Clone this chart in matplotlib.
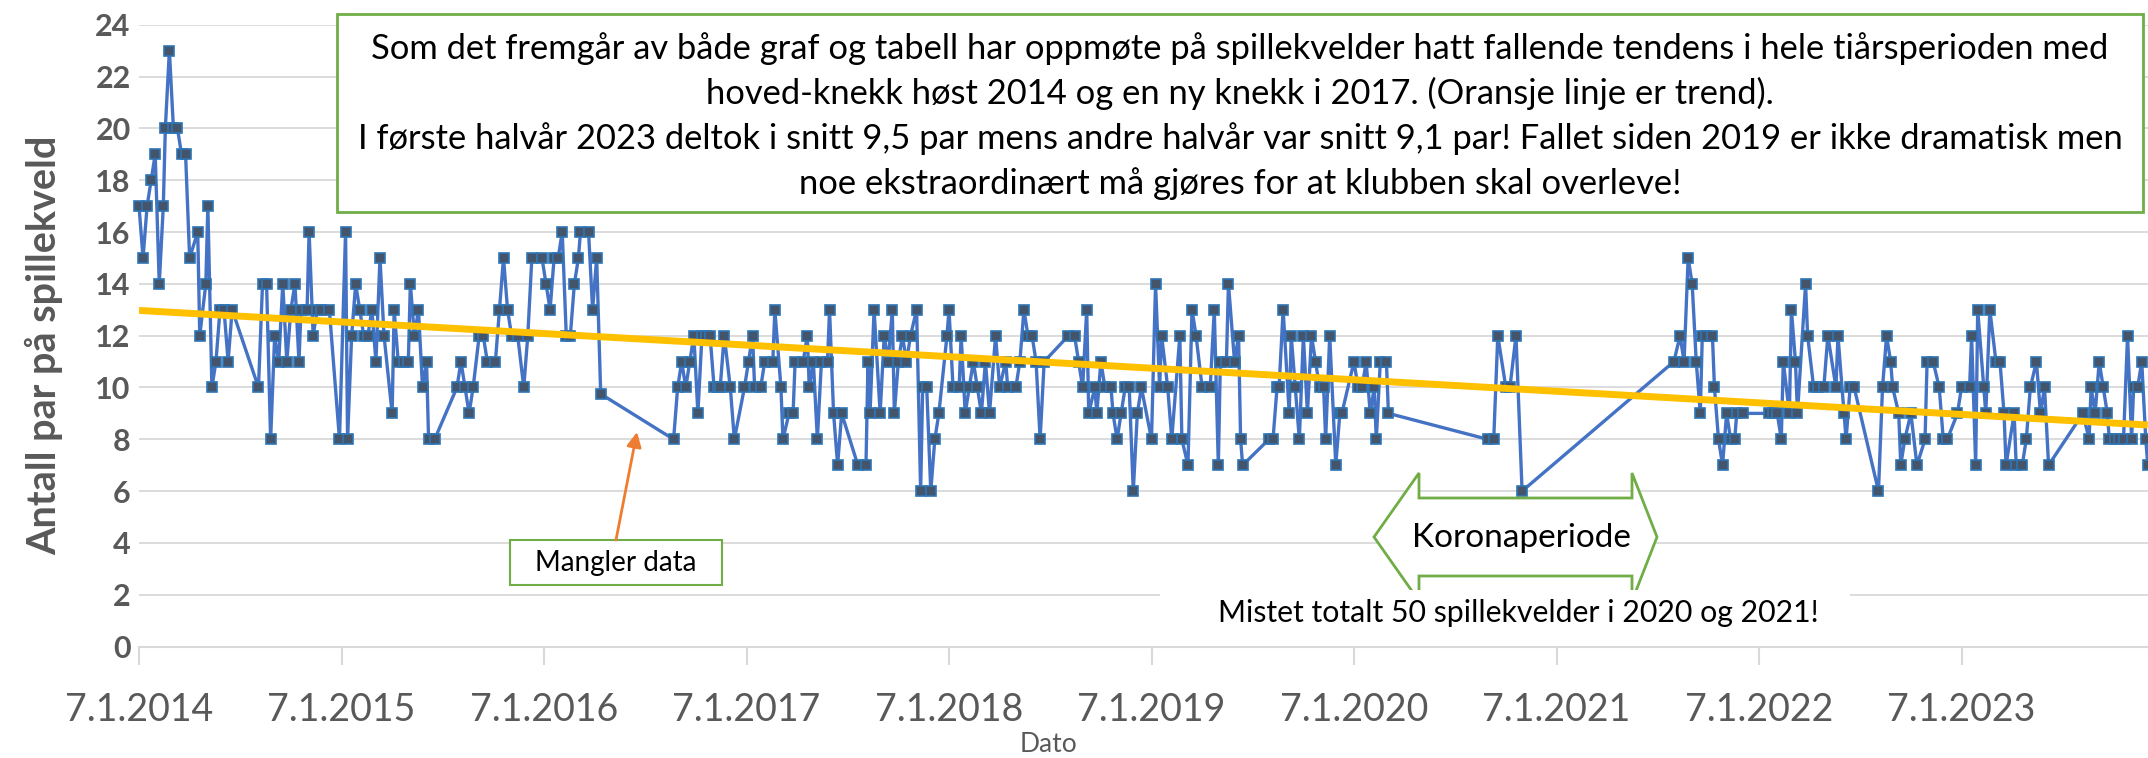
import numpy as np
import matplotlib.pyplot as plt
from matplotlib.patches import Rectangle, Polygon

plt.rcParams['font.family'] = ['Lato', 'DejaVu Sans']

# dato: years after 7.1.2014, antall: pairs per game evening
dato_aar = [
    0.00, 0.02, 0.04, 0.06, 0.08, 0.10, 0.12, 0.13, 0.15, 0.17, 0.19, 0.21, 0.23, 0.25, 0.29, 0.30,
    0.33, 0.34, 0.36, 0.38, 0.40, 0.42, 0.44, 0.46, 0.59, 0.61, 0.63, 0.65, 0.67, 0.69, 0.71, 0.73,
    0.75, 0.77, 0.79, 0.80, 0.83, 0.84, 0.86, 0.88,
    0.90, 0.94, 0.99, 1.02, 1.03, 1.05, 1.07, 1.09, 1.11, 1.13, 1.15, 1.17, 1.19, 1.21, 1.25, 1.26,
    1.28, 1.31, 1.33, 1.34, 1.36, 1.38, 1.40, 1.42, 1.43, 1.46, 1.57, 1.59, 1.61, 1.63, 1.65, 1.68,
    1.70, 1.72, 1.76, 1.78, 1.80,
    1.82, 1.84, 1.87, 1.90, 1.92, 1.94, 1.99, 2.01, 2.03, 2.05, 2.07, 2.09, 2.11, 2.13, 2.15, 2.17,
    2.18, 2.22, 2.24, 2.26, 2.28, 2.64, 2.66, 2.68, 2.70,
    2.72, 2.74, 2.76, 2.78, 2.80, 2.82, 2.84, 2.86, 2.87, 2.89, 2.92, 2.94, 2.99, 3.01, 3.03, 3.04,
    3.07, 3.09, 3.13, 3.14, 3.17, 3.18, 3.21, 3.23, 3.24, 3.28, 3.30, 3.31, 3.33, 3.35, 3.37, 3.40,
    3.41, 3.43, 3.45, 3.47, 3.55, 3.59, 3.60, 3.61, 3.63,
    3.66, 3.68, 3.70, 3.72, 3.73, 3.75, 3.77, 3.79, 3.81, 3.84, 3.86, 3.87, 3.89, 3.91, 3.93, 3.95,
    3.99, 4.00, 4.02, 4.05, 4.06, 4.08, 4.10, 4.12, 4.14, 4.16, 4.18, 4.20, 4.23, 4.25, 4.28, 4.29,
    4.33, 4.35, 4.37, 4.39, 4.41, 4.43, 4.45, 4.47,
    4.59, 4.62, 4.64, 4.66, 4.68, 4.69, 4.72, 4.73, 4.75, 4.77, 4.80, 4.81, 4.83, 4.85, 4.87, 4.89,
    4.91, 4.93, 4.95, 5.00, 5.02, 5.04, 5.05, 5.08, 5.10, 5.14, 5.15, 5.18, 5.20, 5.22, 5.25, 5.29,
    5.31, 5.33, 5.34, 5.37, 5.38, 5.41, 5.43, 5.44, 5.45,
    5.58, 5.60, 5.62, 5.63, 5.65, 5.68, 5.69, 5.71, 5.73, 5.75, 5.77, 5.79, 5.81, 5.83, 5.85, 5.86,
    5.88, 5.91, 5.93, 5.94, 6.00, 6.02, 6.04, 6.06, 6.08, 6.10, 6.11, 6.13, 6.16, 6.17,
    6.66, 6.69, 6.71, 6.75, 6.77, 6.80, 6.83,
    7.58, 7.61, 7.63, 7.65, 7.67, 7.69, 7.71, 7.72, 7.74, 7.77, 7.78, 7.80, 7.82, 7.84, 7.86, 7.88,
    7.89, 7.92, 8.05, 8.07, 8.09, 8.11, 8.12, 8.15, 8.16, 8.18, 8.19,
    8.23, 8.24, 8.27, 8.29, 8.32, 8.34, 8.38, 8.39, 8.42, 8.43, 8.45, 8.47, 8.59, 8.61, 8.63, 8.65,
    8.66, 8.69, 8.70, 8.72, 8.75, 8.78, 8.82, 8.83, 8.86, 8.89, 8.91, 8.93, 8.98, 9.00, 9.04, 9.05,
    9.07, 9.08,
    9.11, 9.12, 9.14, 9.17, 9.19, 9.21, 9.22, 9.26, 9.27, 9.30, 9.32, 9.34, 9.37, 9.39, 9.41, 9.43,
    9.60, 9.63, 9.64, 9.66, 9.68, 9.70, 9.72, 9.73, 9.76, 9.78, 9.80, 9.82, 9.84, 9.85, 9.87, 9.89,
    9.91, 9.92,
]
antall_par = [
    17, 15, 17, 18, 19, 14, 17, 20, 23, 20, 20, 19, 19, 15, 16, 12,
    14, 17, 10, 11, 13, 13, 11, 13, 10, 14, 14, 8, 12, 11, 14, 11,
    13, 14, 11, 13, 13, 16, 12, 13,
    13, 13, 8, 16, 8, 12, 14, 13, 12, 12, 13, 11, 15, 12, 9, 13,
    11, 11, 11, 14, 12, 13, 10, 11, 8, 8, 10, 11, 10, 9, 10, 12,
    12, 11, 11, 13, 15,
    13, 12, 12, 10, 12, 15, 15, 14, 13, 15, 15, 16, 12, 12, 14, 15,
    16, 16, 13, 15, 9.75, 8, 10, 11, 10,
    11, 12, 9, 12, 12, 12, 10, 10, 10, 12, 10, 8, 10, 11, 12, 10,
    10, 11, 11, 13, 10, 8, 9, 9, 11, 11, 12, 10, 11, 8, 11, 11,
    13, 9, 7, 9, 7, 7, 11, 9, 13,
    9, 12, 11, 13, 9, 11, 12, 11, 12, 13, 6, 10, 10, 6, 8, 9,
    12, 13, 10, 10, 12, 9, 10, 11, 10, 9, 11, 9, 12, 10, 11, 10,
    10, 11, 13, 12, 12, 11, 8, 11,
    12, 12, 11, 10, 13, 9, 10, 9, 11, 10, 10, 9, 8, 9, 10, 10,
    6, 9, 10, 8, 14, 10, 12, 10, 8, 12, 8, 7, 13, 12, 10, 10,
    13, 7, 11, 11, 14, 11, 12, 8, 7,
    8, 8, 10, 10, 13, 9, 12, 10, 8, 12, 9, 12, 11, 10, 10, 8,
    12, 7, 9, 9, 11, 10, 10, 11, 9, 10, 8, 11, 11, 9,
    8, 8, 12, 10, 10, 12, 6,
    11, 12, 11, 15, 14, 11, 9, 12, 12, 12, 10, 8, 7, 9, 8, 8,
    9, 9, 9, 9, 9, 8, 11, 9, 13, 11, 9,
    14, 12, 10, 10, 10, 12, 10, 12, 9, 8, 10, 10, 6, 10, 12, 11,
    10, 9, 7, 8, 9, 7, 8, 11, 11, 10, 8, 8, 9, 10, 10, 12,
    7, 13,
    10, 9, 13, 11, 11, 9, 7, 9, 7, 7, 8, 10, 11, 9, 10, 7,
    9, 8, 10, 9, 11, 10, 9, 8, 8, 8, 8, 12, 8, 10, 10, 11,
    8, 7,
]

aar_ticks = list(range(10))
aar_labels = ['7.1.%d' % (2014 + i) for i in aar_ticks]
y_ticks = list(range(0, 25, 2))

infotekst = ("Som det fremgår av både graf og tabell har oppmøte på spillekvelder hatt fallende tendens i hele tiårsperioden med\n"
             "hoved-knekk høst 2014 og en ny knekk i 2017. (Oransje linje er trend).\n"
             "I første halvår 2023 deltok i snitt 9,5 par mens andre halvår var snitt 9,1 par! Fallet siden 2019 er ikke dramatisk men\n"
             "noe ekstraordinært må gjøres for at klubben skal overleve!")

W, H = 2148, 758
grey = '#595959'
green = '#70AD47'

fig = plt.figure(figsize=(W / 100, H / 100), dpi=100)
ax = fig.add_axes([139 / W, 1 - 646.6 / H, 1 - 139 / W, (646.6 - 24.7) / H])

x = np.array(dato_aar)
y = np.array(antall_par)
ax.plot(x, y, color='#4472C4', lw=2.4, marker='s', markersize=6.5,
        markerfacecolor='#44546A', markeredgecolor='#2E75B6', markeredgewidth=1.2,
        clip_on=False, zorder=3)

# linear trend
k, m = np.polyfit(x, y, 1)
xt = np.array([x.min(), x.max()])
ax.plot(xt, k * xt + m, color='#FFC000', lw=5, solid_capstyle='butt', zorder=4)

ax.set_xlim(0, (W - 139) / 202.5)
ax.set_ylim(0, 24)
ax.set_yticks(y_ticks)
ax.set_xticks(aar_ticks)
ax.set_xticklabels(aar_labels)
for s in ['top', 'right', 'left']:
    ax.spines[s].set_visible(False)
ax.spines['bottom'].set_color('#D9D9D9')
ax.spines['bottom'].set_linewidth(1.5)
ax.yaxis.grid(True, color='#D9D9D9', lw=1.3)
ax.set_axisbelow(True)
ax.tick_params(axis='y', length=0, pad=6, labelsize=22, labelcolor=grey)
ax.tick_params(axis='x', length=13, width=1.5, color='#D9D9D9', direction='out',
               pad=20, labelsize=27, labelcolor=grey)
for lab in ax.get_yticklabels():
    lab.set_fontweight('bold')

fig.text(44 / W, 1 - 345 / H, 'Antall par på spillekveld', rotation=90, ha='center', va='center',
         fontsize=28.5, fontweight='bold', color=grey)
fig.text(1048 / W, 1 - 744 / H, 'Dato', ha='center', va='center', fontsize=19, color=grey)

# annotations in pixel coordinates
ov = fig.add_axes([0, 0, 1, 1], zorder=5)
ov.set_xlim(0, W)
ov.set_ylim(H, 0)
ov.axis('off')

ov.add_patch(Rectangle((337, 14), 2143 - 337, 212 - 14, facecolor='white', edgecolor=green, lw=2))
ov.text(1240, 116, infotekst, ha='center', va='center', fontsize=24.8, linespacing=1.44, color='black')

ov.add_patch(Rectangle((510, 540), 212, 45, facecolor='white', edgecolor=green, lw=1.5))
ov.text(616, 563, 'Mangler data', ha='center', va='center', fontsize=20, color='black')
ov.annotate('', xy=(637, 432), xytext=(616, 540),
            arrowprops=dict(arrowstyle='-|>', color='#ED7D31', lw=2, mutation_scale=22,
                            shrinkA=0, shrinkB=0))

korona = [(1374, 537), (1419, 473), (1419, 498), (1632, 498), (1632, 473), (1657, 537),
          (1632, 601), (1632, 576), (1419, 576), (1419, 601)]
ov.add_patch(Polygon(korona, closed=True, facecolor='white', edgecolor=green, lw=2))
ov.text(1521, 538, 'Koronaperiode', ha='center', va='center', fontsize=24, color='black')

ov.add_patch(Rectangle((1160, 590), 690, 45, facecolor='white', edgecolor='none'))
ov.text(1518, 613, 'Mistet totalt 50 spillekvelder i 2020 og 2021!', ha='center', va='center',
        fontsize=21.8, color='black')

fig.savefig('out.png', dpi=100)
